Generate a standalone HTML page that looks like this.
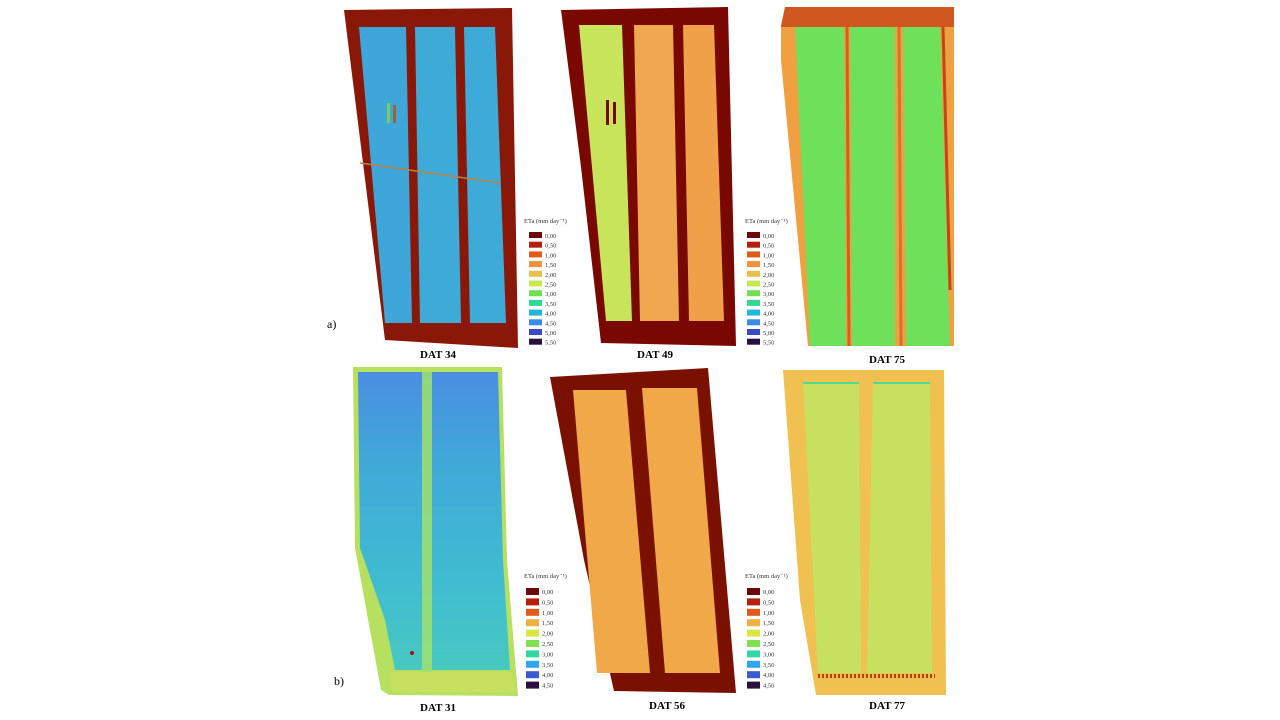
<!DOCTYPE html>
<html><head><meta charset="utf-8"><style>
html,body{margin:0;padding:0;background:#fff;width:1280px;height:720px;overflow:hidden}
svg{display:block}
text{font-family:"Liberation Serif",serif}
.lab{font-size:11px;font-weight:bold;text-anchor:middle}
.lg{font-size:6.5px;fill:#333}
</style></head><body>
<svg width="1280" height="720" viewBox="0 0 1280 720" xmlns="http://www.w3.org/2000/svg">
<defs>
<linearGradient id="g31" x1="0" y1="0" x2="0" y2="1">
<stop offset="0" stop-color="#4a8ee0"/><stop offset="0.3" stop-color="#40a8d8"/><stop offset="0.7" stop-color="#40bcd0"/><stop offset="1" stop-color="#48c8c0"/>
</linearGradient>
</defs>

<!-- DAT 34 -->
<polygon points="344,10 512,8 518,348 385,340" fill="#8a1808"/>
<polygon points="359,27 406,27 412,323 385,323" fill="#3ea6d8"/>
<polygon points="415,27 455,27 461,323 420,323" fill="#3eaad8"/>
<polygon points="464,27 495,27 506,323 470,323" fill="#3eaad8"/>
<line x1="360" y1="163" x2="500" y2="183" stroke="#c08040" stroke-width="1.5"/>
<rect x="387" y="103" width="3" height="20" fill="#70d060"/><rect x="393" y="105" width="3" height="18" fill="#a06030"/>

<!-- DAT 49 -->
<polygon points="561,10 728,7 736,346 601,343 581,167" fill="#780800"/>
<polygon points="579,25 622,25 632,321 606,321" fill="#c8e45a"/>
<polygon points="634,25 673,25 679,321 640,321" fill="#f0a850"/>
<polygon points="683,25 714,25 724,321 689,321" fill="#f0a048"/>
<rect x="606" y="100" width="3" height="25" fill="#780800"/><rect x="613" y="102" width="3" height="22" fill="#780800"/>

<!-- DAT 75 -->
<polygon points="785,7 954,7 954,346 808,346 781,60 781,25" fill="#f0a040"/>
<polygon points="785,7 954,7 954,27 781,27" fill="#d05820"/>
<polygon points="795,27 844,27 846,346 810,346" fill="#6fe05a"/>
<polygon points="850,27 895,27 895,346 852,346" fill="#6fe05a"/>
<polygon points="903,27 940,27 950,346 906,346" fill="#6fe05a"/>
<line x1="847" y1="27" x2="849" y2="346" stroke="#d06020" stroke-width="3"/>
<line x1="899" y1="27" x2="901" y2="346" stroke="#d87030" stroke-width="3"/>
<line x1="943" y1="27" x2="950" y2="290" stroke="#c04818" stroke-width="3"/>

<!-- Legends top -->
<g class="lg">
<text x="524" y="223">ETa (mm day⁻¹)</text>
<text x="745" y="223">ETa (mm day⁻¹)</text>
</g>
<g>
<rect x="529" y="232" width="13" height="6" fill="#6b0a0a"/><rect x="529" y="241.7" width="13" height="6" fill="#b3200e"/><rect x="529" y="251.4" width="13" height="6" fill="#e05a1a"/><rect x="529" y="261.1" width="13" height="6" fill="#f09040"/><rect x="529" y="270.8" width="13" height="6" fill="#e8c050"/><rect x="529" y="280.5" width="13" height="6" fill="#c8e850"/><rect x="529" y="290.2" width="13" height="6" fill="#70e050"/><rect x="529" y="299.9" width="13" height="6" fill="#30d890"/><rect x="529" y="309.6" width="13" height="6" fill="#20b8d8"/><rect x="529" y="319.3" width="13" height="6" fill="#3a8ae8"/><rect x="529" y="329" width="13" height="6" fill="#3a4ac0"/><rect x="529" y="338.7" width="13" height="6" fill="#2a1040"/>
<rect x="747" y="232" width="13" height="6" fill="#6b0a0a"/><rect x="747" y="241.7" width="13" height="6" fill="#b3200e"/><rect x="747" y="251.4" width="13" height="6" fill="#e05a1a"/><rect x="747" y="261.1" width="13" height="6" fill="#f09040"/><rect x="747" y="270.8" width="13" height="6" fill="#e8c050"/><rect x="747" y="280.5" width="13" height="6" fill="#c8e850"/><rect x="747" y="290.2" width="13" height="6" fill="#70e050"/><rect x="747" y="299.9" width="13" height="6" fill="#30d890"/><rect x="747" y="309.6" width="13" height="6" fill="#20b8d8"/><rect x="747" y="319.3" width="13" height="6" fill="#3a8ae8"/><rect x="747" y="329" width="13" height="6" fill="#3a4ac0"/><rect x="747" y="338.7" width="13" height="6" fill="#2a1040"/>
</g>
<g class="lg">
<text x="545" y="238">0,00</text><text x="545" y="247.7">0,50</text><text x="545" y="257.4">1,00</text><text x="545" y="267.1">1,50</text><text x="545" y="276.8">2,00</text><text x="545" y="286.5">2,50</text><text x="545" y="296.2">3,00</text><text x="545" y="305.9">3,50</text><text x="545" y="315.6">4,00</text><text x="545" y="325.3">4,50</text><text x="545" y="335">5,00</text><text x="545" y="344.7">5,50</text>
<text x="763" y="238">0,00</text><text x="763" y="247.7">0,50</text><text x="763" y="257.4">1,00</text><text x="763" y="267.1">1,50</text><text x="763" y="276.8">2,00</text><text x="763" y="286.5">2,50</text><text x="763" y="296.2">3,00</text><text x="763" y="305.9">3,50</text><text x="763" y="315.6">4,00</text><text x="763" y="325.3">4,50</text><text x="763" y="335">5,00</text><text x="763" y="344.7">5,50</text>
</g>

<text x="438" y="358" class="lab">DAT 34</text>
<text x="655" y="358" class="lab">DAT 49</text>
<text x="887" y="363" class="lab">DAT 75</text>
<text x="327" y="328" style="font-size:12px">a)</text>

<!-- DAT 31 -->
<polygon points="353,367 502,367 507,560 518,696 389,695 381,690 355,548" fill="#b8e060"/>
<polygon points="358,372 498,372 503,560 510,670 395,670 385,620 360,548" fill="url(#g31)"/>
<rect x="422" y="372" width="10" height="300" fill="#a0e070" opacity="0.85"/>
<polygon points="390,672 512,672 515,692 392,692" fill="#c8e060"/>
<circle cx="412" cy="653" r="2" fill="#a01010"/>

<!-- DAT 56 -->
<polygon points="550,377 708,368 736,693 614,691 584,560" fill="#7a1000"/>
<polygon points="573,390 626,390 650,673 597,673" fill="#f0a848"/>
<polygon points="642,388 697,388 720,673 665,673" fill="#f0a848"/>

<!-- DAT 77 -->
<polygon points="783,370 944,370 946,695 816,695 800,600" fill="#f0c050"/>
<polygon points="803,382 859,382 861,673 818,673" fill="#c8e060"/>
<polygon points="873,382 930,382 932,673 867,673" fill="#c8e060"/>
<line x1="803" y1="383" x2="859" y2="383" stroke="#50d890" stroke-width="2"/>
<line x1="873" y1="383" x2="930" y2="383" stroke="#50d890" stroke-width="2"/>
<line x1="818" y1="676" x2="935" y2="676" stroke="#b84010" stroke-width="4" stroke-dasharray="2,2"/>

<!-- Legends bottom -->
<g class="lg"><text x="524" y="578">ETa (mm day⁻¹)</text><text x="745" y="578">ETa (mm day⁻¹)</text></g>
<g>
<rect x="526" y="588" width="13" height="7" fill="#6b0a0a"/><rect x="526" y="598.4" width="13" height="7" fill="#b3200e"/><rect x="526" y="608.8" width="13" height="7" fill="#e05a1a"/><rect x="526" y="619.2" width="13" height="7" fill="#f0b040"/><rect x="526" y="629.6" width="13" height="7" fill="#d8e840"/><rect x="526" y="640" width="13" height="7" fill="#80e050"/><rect x="526" y="650.4" width="13" height="7" fill="#30d8a0"/><rect x="526" y="660.8" width="13" height="7" fill="#30a8e8"/><rect x="526" y="671.2" width="13" height="7" fill="#3a5ad0"/><rect x="526" y="681.6" width="13" height="7" fill="#2a1040"/>
<rect x="747" y="588" width="13" height="7" fill="#6b0a0a"/><rect x="747" y="598.4" width="13" height="7" fill="#b3200e"/><rect x="747" y="608.8" width="13" height="7" fill="#e05a1a"/><rect x="747" y="619.2" width="13" height="7" fill="#f0b040"/><rect x="747" y="629.6" width="13" height="7" fill="#d8e840"/><rect x="747" y="640" width="13" height="7" fill="#80e050"/><rect x="747" y="650.4" width="13" height="7" fill="#30d8a0"/><rect x="747" y="660.8" width="13" height="7" fill="#30a8e8"/><rect x="747" y="671.2" width="13" height="7" fill="#3a5ad0"/><rect x="747" y="681.6" width="13" height="7" fill="#2a1040"/>
</g>
<g class="lg">
<text x="542" y="594">0,00</text><text x="542" y="604.4">0,50</text><text x="542" y="614.8">1,00</text><text x="542" y="625.2">1,50</text><text x="542" y="635.6">2,00</text><text x="542" y="646">2,50</text><text x="542" y="656.4">3,00</text><text x="542" y="666.8">3,50</text><text x="542" y="677.2">4,00</text><text x="542" y="687.6">4,50</text>
<text x="763" y="594">0,00</text><text x="763" y="604.4">0,50</text><text x="763" y="614.8">1,00</text><text x="763" y="625.2">1,50</text><text x="763" y="635.6">2,00</text><text x="763" y="646">2,50</text><text x="763" y="656.4">3,00</text><text x="763" y="666.8">3,50</text><text x="763" y="677.2">4,00</text><text x="763" y="687.6">4,50</text>
</g>

<text x="438" y="711" class="lab">DAT 31</text>
<text x="667" y="709" class="lab">DAT 56</text>
<text x="887" y="709" class="lab">DAT 77</text>
<text x="334" y="685" style="font-size:12px">b)</text>
</svg>
</body></html>
